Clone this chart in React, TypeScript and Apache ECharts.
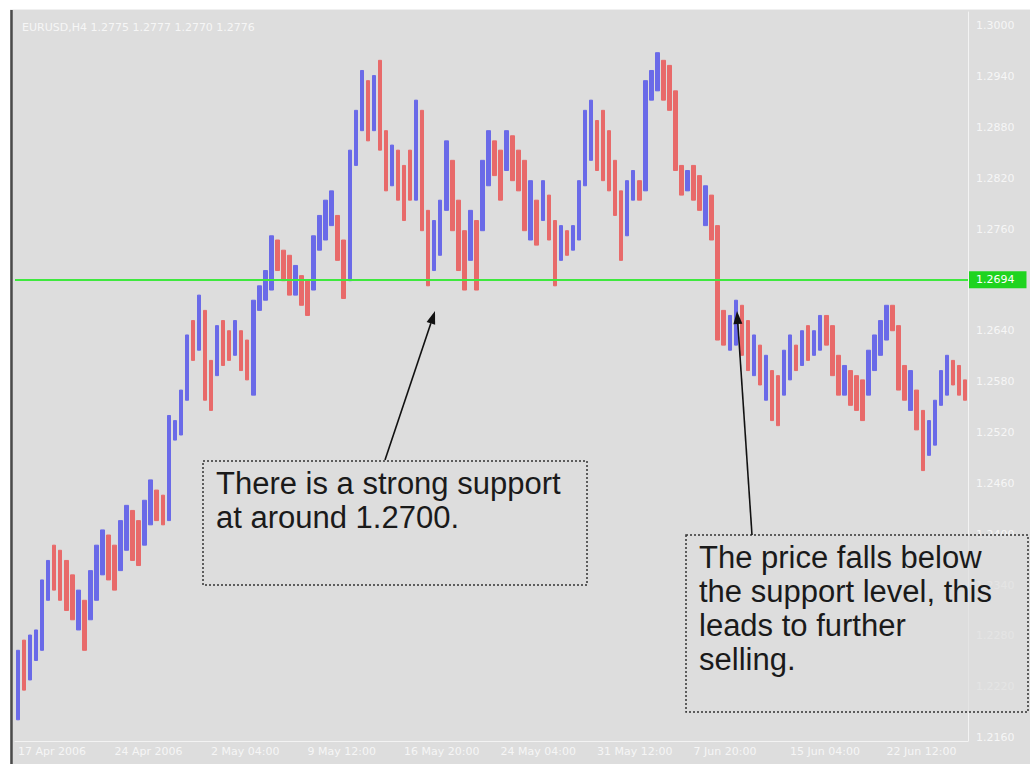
import React, { useEffect, useRef } from "react";
import * as echarts from "echarts";

// ---- Data ----
const chartTitle = "EURUSD,H4 1.2775 1.2777 1.2770 1.2776";
const dateLabels = [
  "17 Apr 2006", "24 Apr 2006", "2 May 04:00", "9 May 12:00", "16 May 20:00",
  "24 May 04:00", "31 May 12:00", "7 Jun 20:00", "15 Jun 04:00", "22 Jun 12:00",
];
const barsPerLabel = 16;
const priceTicks = [
  1.216, 1.222, 1.228, 1.234, 1.24, 1.246, 1.252, 1.258, 1.264, 1.27,
  1.276, 1.282, 1.288, 1.294, 1.3,
];
const supportLevel = 1.2694;
const bidPrice = 1.277;

// [open, close] per bar (bar range spans open..close)
const bars: [number, number][] = [
  [1.2181, 1.2263], [1.2275, 1.2216], [1.2228, 1.2281], [1.2251, 1.2287],
  [1.2263, 1.2346], [1.2322, 1.2369], [1.2387, 1.2334], [1.2381, 1.2322],
  [1.2369, 1.231], [1.2352, 1.2299], [1.2287, 1.2334], [1.2322, 1.2263],
  [1.2299, 1.2357], [1.2322, 1.2387], [1.2352, 1.2405], [1.2399, 1.2346],
  [1.2387, 1.2334], [1.2357, 1.2416], [1.2381, 1.2434], [1.2428, 1.2369],
  [1.2416, 1.2363], [1.2387, 1.244], [1.2411, 1.2464], [1.2452, 1.2416],
  [1.2446, 1.2411], [1.2416, 1.254], [1.2511, 1.2534], [1.2517, 1.257],
  [1.2558, 1.2635], [1.2652, 1.2605], [1.2617, 1.2682], [1.2664, 1.2558],
  [1.2605, 1.2546], [1.2587, 1.2646], [1.2652, 1.2599], [1.264, 1.2605],
  [1.2611, 1.2652], [1.264, 1.2593], [1.2629, 1.2582], [1.2564, 1.2676],
  [1.2664, 1.2693], [1.2676, 1.2711], [1.2688, 1.2752], [1.2747, 1.2711],
  [1.2735, 1.2699], [1.2729, 1.2682], [1.2682, 1.2717], [1.2705, 1.267],
  [1.2699, 1.2658], [1.2688, 1.2752], [1.2735, 1.2776], [1.2747, 1.2794],
  [1.2764, 1.2805], [1.2776, 1.2723], [1.2747, 1.2678], [1.2699, 1.2853],
  [1.2835, 1.29], [1.2876, 1.2947], [1.2935, 1.2864], [1.2876, 1.2941],
  [1.2959, 1.2853], [1.2876, 1.2805], [1.2811, 1.2859], [1.2853, 1.2794],
  [1.2835, 1.277], [1.2853, 1.2794], [1.2794, 1.2912], [1.29, 1.2758],
  [1.2782, 1.2693], [1.2711, 1.277], [1.2729, 1.2794], [1.2782, 1.2864],
  [1.2841, 1.2758], [1.2794, 1.2711], [1.2758, 1.2688], [1.2723, 1.2782],
  [1.277, 1.2688], [1.2758, 1.2841], [1.2811, 1.2876], [1.2864, 1.2823],
  [1.2853, 1.2794], [1.2829, 1.2876], [1.287, 1.2817], [1.2853, 1.2805],
  [1.2841, 1.2758], [1.2747, 1.2817], [1.2794, 1.2741], [1.277, 1.2817],
  [1.28, 1.2747], [1.277, 1.2693], [1.2723, 1.2764], [1.2758, 1.2729],
  [1.2735, 1.2764], [1.2747, 1.2817], [1.2811, 1.29], [1.2841, 1.2912],
  [1.2888, 1.2829], [1.29, 1.2817], [1.2876, 1.2805], [1.2841, 1.2776],
  [1.2805, 1.2723], [1.2752, 1.2817], [1.2794, 1.2829], [1.2817, 1.2794],
  [1.2805, 1.2935], [1.2912, 1.2947], [1.2923, 1.2968], [1.2959, 1.2912],
  [1.2953, 1.29], [1.2923, 1.2829], [1.2835, 1.28], [1.2805, 1.2829],
  [1.2835, 1.2794], [1.2823, 1.2782], [1.2764, 1.2811], [1.28, 1.2747],
  [1.2764, 1.2629], [1.2664, 1.2623], [1.2617, 1.2658], [1.2623, 1.2676],
  [1.267, 1.2611], [1.2652, 1.2593], [1.2587, 1.2635], [1.2623, 1.2576],
  [1.2558, 1.2611], [1.2593, 1.2534], [1.2587, 1.2528], [1.2564, 1.2617],
  [1.2582, 1.2635], [1.2623, 1.2593], [1.2599, 1.264], [1.2646, 1.2605],
  [1.2611, 1.264], [1.2617, 1.2658], [1.2658, 1.2623], [1.2646, 1.2587],
  [1.2611, 1.2564], [1.2564, 1.2599], [1.2593, 1.2552], [1.2587, 1.2546],
  [1.2582, 1.2534], [1.2564, 1.2617], [1.2593, 1.2635], [1.2611, 1.2652],
  [1.2629, 1.267], [1.267, 1.264], [1.2646, 1.257], [1.2599, 1.2558],
  [1.2546, 1.2593], [1.257, 1.2523], [1.2546, 1.2475], [1.2493, 1.2534],
  [1.2505, 1.2558], [1.2552, 1.2593], [1.2564, 1.2611], [1.2605, 1.2576],
  [1.2599, 1.2564], [1.2582, 1.2558],
];

const note1 = "There is a strong support\nat around 1.2700.";
const note2 = "The price falls below\nthe support level, this\nleads to further\nselling.";

function arrow(x1: number, y1: number, x2: number, y2: number) {
  const dx = x2 - x1;
  const dy = y2 - y1;
  const len = Math.sqrt(dx * dx + dy * dy);
  const ux = dx / len;
  const uy = dy / len;
  const hl = 13;
  const hw = 4.5;
  const bx = x2 - ux * hl;
  const by = y2 - uy * hl;
  return [
    {
      type: "line",
      z: 100,
      shape: { x1, y1, x2: bx, y2: by },
      style: { stroke: "#111", lineWidth: 1.6 },
    },
    {
      type: "polygon",
      z: 100,
      shape: {
        points: [
          [x2, y2],
          [bx - uy * hw, by + ux * hw],
          [bx + uy * hw, by - ux * hw],
        ],
      },
      style: { fill: "#111" },
    },
  ];
}

export default function App() {
  const ref = useRef<HTMLDivElement>(null);

  useEffect(() => {
    if (!ref.current) return;
    const chart = echarts.init(ref.current, null, { renderer: "svg" });
    const categories = bars.map((_, i) => String(i));
    const candles = bars.map(([o, c]) => [o, c, Math.min(o, c), Math.max(o, c)]);
    const axisFont = "DejaVu Sans";

    chart.setOption({
      animation: false,
      backgroundColor: "#ffffff",
      grid: { left: 15, right: 62, top: 12, bottom: 23, containLabel: false },
      xAxis: {
        type: "category",
        data: categories,
        boundaryGap: true,
        axisLine: { show: true, lineStyle: { color: "#f3f3f3", width: 1 } },
        axisTick: { show: false },
        splitLine: { show: false },
        axisLabel: {
          interval: barsPerLabel - 1,
          align: "left",
          margin: 5,
          color: "#f6f6f6",
          fontSize: 11,
          fontFamily: axisFont,
          formatter: (_v: string, idx: number) =>
            idx % barsPerLabel === 0 ? dateLabels[idx / barsPerLabel] ?? "" : "",
        },
      },
      yAxis: {
        type: "value",
        position: "right",
        min: 1.2156,
        max: 1.3016,
        interval: 0.0004,
        axisLine: { show: true, lineStyle: { color: "#f3f3f3", width: 1 } },
        axisTick: { show: false },
        splitLine: { show: false },
        axisLabel: {
          margin: 8,
          color: "#f6f6f6",
          fontSize: 11,
          fontFamily: axisFont,
          formatter: (v: number) =>
            priceTicks.some((t) => Math.abs(t - v) < 0.00005) ? v.toFixed(4) : "",
        },
      },
      series: [
        {
          type: "candlestick",
          data: candles,
          barWidth: 4,
          itemStyle: {
            color: "#6a6ae8",
            color0: "#e86a6a",
            borderColor: "#6a6ae8",
            borderColor0: "#e86a6a",
            borderWidth: 1,
          },
          markLine: {
            silent: true,
            symbol: "none",
            animation: false,
            data: [
              {
                yAxis: supportLevel,
                lineStyle: { color: "#3ee83e", width: 2, type: "solid" },
                label: {
                  show: true,
                  position: "end",
                  distance: 1,
                  formatter: () => supportLevel.toFixed(4),
                  color: "#ffffff",
                  backgroundColor: "#1fd41f",
                  padding: [3, 12, 3, 7],
                  fontSize: 11,
                  fontFamily: axisFont,
                },
              },
              {
                yAxis: bidPrice,
                lineStyle: { opacity: 0 },
                label: {
                  show: true,
                  position: "end",
                  distance: 1,
                  formatter: () => bidPrice.toFixed(4),
                  color: "#b4b4b4",
                  backgroundColor: "#ffffff",
                  padding: [3, 12, 3, 7],
                  fontSize: 11,
                  fontFamily: axisFont,
                },
              },
            ],
          },
        },
      ],
      graphic: [
        {
          type: "rect",
          z: -10,
          shape: { x: 10, y: 9, width: 1020, height: 755 },
          style: { fill: "#dddddd" },
        },
        {
          type: "line",
          z: 50,
          shape: { x1: 11.5, y1: 9, x2: 11.5, y2: 764 },
          style: { stroke: "#4a4a4a", lineWidth: 2.5 },
        },
        {
          type: "line",
          z: 50,
          shape: { x1: 10, y1: 9.5, x2: 1030, y2: 9.5 },
          style: { stroke: "#f0f0f0", lineWidth: 1 },
        },
        {
          type: "text",
          z: 50,
          style: {
            text: chartTitle,
            x: 22,
            y: 27,
            verticalAlign: "middle",
            fill: "#f6f6f6",
            fontSize: 11,
            fontFamily: axisFont,
          },
        },
        {
          type: "rect",
          z: 90,
          shape: { x: 203, y: 461, width: 384, height: 124 },
          style: { fill: "#dddddd", stroke: "#333333", lineWidth: 1.5, lineDash: [2, 2] },
        },
        {
          type: "text",
          z: 100,
          style: {
            text: note1,
            x: 216,
            y: 466,
            verticalAlign: "top",
            fontSize: 31,
            lineHeight: 34,
            fontFamily: "Liberation Sans",
            fill: "#1a1a1a",
          },
        },
        {
          type: "rect",
          z: 90,
          shape: { x: 686, y: 535, width: 342, height: 177 },
          style: {
            fill: "rgba(221,221,221,0.7)",
            stroke: "#333333",
            lineWidth: 1.5,
            lineDash: [2, 2],
          },
        },
        {
          type: "text",
          z: 100,
          style: {
            text: note2,
            x: 699,
            y: 540,
            verticalAlign: "top",
            fontSize: 31,
            lineHeight: 34,
            fontFamily: "Liberation Sans",
            fill: "#1a1a1a",
          },
        },
        ...arrow(385, 460, 435, 311),
        ...arrow(752, 535, 737, 311),
      ],
    });

    return () => chart.dispose();
  }, []);

  return (
    <div
      ref={ref}
      style={{ position: "absolute", left: 0, top: 0, width: 1030, height: 764 }}
    />
  );
}
